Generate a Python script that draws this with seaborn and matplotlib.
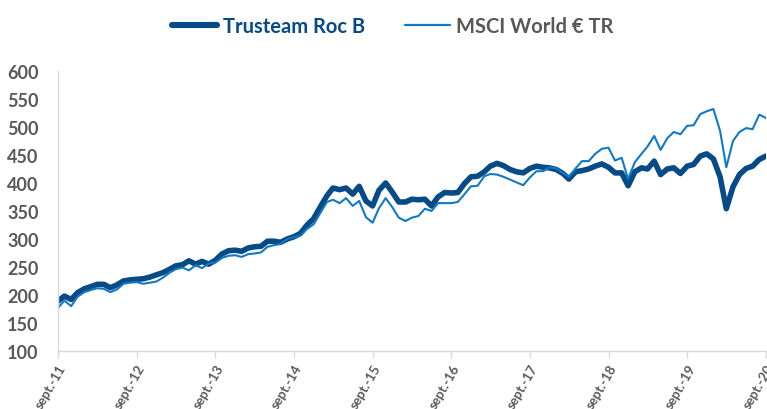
import matplotlib
matplotlib.use("Agg")
import matplotlib.pyplot as plt
import pandas as pd
import seaborn as sns

# Monthly values, Sept 2011 -> Sept 2020 (base ~100 at launch)
trusteam = [
    189, 198, 192, 204, 211, 215, 219, 219, 213, 218, 225, 227,
    228, 229, 232, 236, 240, 246, 252, 254, 261, 255, 260, 255,
    262, 273, 279, 280, 278, 284, 286, 287, 296, 296, 294, 300,
    304, 310, 325, 336, 357, 377, 391, 388, 391, 380, 394, 368,
    359, 387, 400, 384, 366, 366, 371, 370, 371, 359, 375, 383,
    382, 383, 399, 411, 412, 420, 430, 435, 431, 424, 420, 418,
    426, 430, 428, 427, 424, 417, 407, 420, 422, 425, 430, 434,
    428, 418, 418, 395, 420, 427, 425, 439, 415, 425, 427, 417,
    430, 433, 448, 452, 443, 411, 354, 393, 415, 426, 430, 442,
    448,
]
msci = [
    177, 190, 180, 197, 205, 209, 212, 211, 205, 210, 220, 222,
    223, 220, 222, 224, 231, 240, 246, 249, 244, 253, 248, 256,
    258, 266, 270, 271, 268, 273, 274, 276, 286, 289, 291, 300,
    303, 306, 318, 326, 346, 366, 370, 364, 373, 359, 368, 339,
    329, 355, 373, 357, 338, 332, 338, 341, 354, 350, 364, 364,
    364, 366, 380, 394, 395, 412, 416, 415, 411, 406, 401, 396,
    410, 421, 421, 428, 426, 418, 411, 426, 439, 439, 452, 461,
    463, 440, 445, 407, 437, 452, 465, 484, 459, 480, 491, 487,
    502, 503, 523, 528, 532, 493, 428, 475, 491, 498, 496, 522,
    516,
]
series_names = ["Trusteam Roc B", "MSCI World € TR"]
tick_years = ["11", "12", "13", "14", "15", "16", "17", "18", "19", "20"]

dates = pd.date_range("2011-09-01", periods=len(trusteam), freq="MS")
df = pd.DataFrame({
    "date": list(dates) * 2,
    "value": trusteam + msci,
    "serie": [series_names[0]] * len(trusteam) + [series_names[1]] * len(msci),
})

sns.set_style("white")
plt.rcParams["font.family"] = ["Lato", "DejaVu Sans"]

dark_blue = "#064A86"
light_blue = "#1279C6"
grey_txt = "#595959"

fig = plt.figure(figsize=(7.67, 4.10), dpi=100)
ax = fig.add_axes([0.0756, 0.1415, 0.923, 0.683])

sns.lineplot(
    data=df, x="date", y="value", hue="serie", size="serie",
    palette={series_names[0]: dark_blue, series_names[1]: light_blue},
    sizes={series_names[0]: 4.0, series_names[1]: 1.5},
    ax=ax, legend=False,
)

ax.set_xlim(dates[0], dates[-1])
ax.set_ylim(100, 600)
ax.set_yticks(range(100, 601, 50))
ax.set_xlabel("")
ax.set_ylabel("")

# the last label runs off the right edge, as in the original
tick_dates = [pd.Timestamp(f"20{y}-09-01") for y in tick_years]
ax.set_xticks(tick_dates)
ax.set_xticklabels([f"sept.-{y}" for y in tick_years], rotation=60,
                   ha="right", rotation_mode="anchor",
                   fontsize=9.5, fontweight="bold", color=grey_txt)
for lbl in ax.get_yticklabels():
    lbl.set_fontsize(13)
    lbl.set_fontweight("bold")
    lbl.set_color(grey_txt)

ax.tick_params(axis="x", length=5, width=1, color="#d9d9d9", pad=3, direction="out", bottom=True)
ax.tick_params(axis="y", length=0, pad=14)
for side in ["top", "right"]:
    ax.spines[side].set_visible(False)
for side in ["left", "bottom"]:
    ax.spines[side].set_color("#d9d9d9")
    ax.spines[side].set_linewidth(1)

handles = [
    plt.Line2D([], [], color=dark_blue, lw=4.4, solid_capstyle="round"),
    plt.Line2D([], [], color=light_blue, lw=1.6),
]
leg = fig.legend(handles, series_names, loc="center", bbox_to_anchor=(0.512, 0.934),
                 ncol=2, frameon=False, handlelength=2.2, handletextpad=0.3,
                 columnspacing=2.0, prop={"size": 14.5, "weight": "bold"})
leg.get_texts()[0].set_color(dark_blue)
leg.get_texts()[1].set_color(grey_txt)

fig.savefig("out.png", dpi=100)
